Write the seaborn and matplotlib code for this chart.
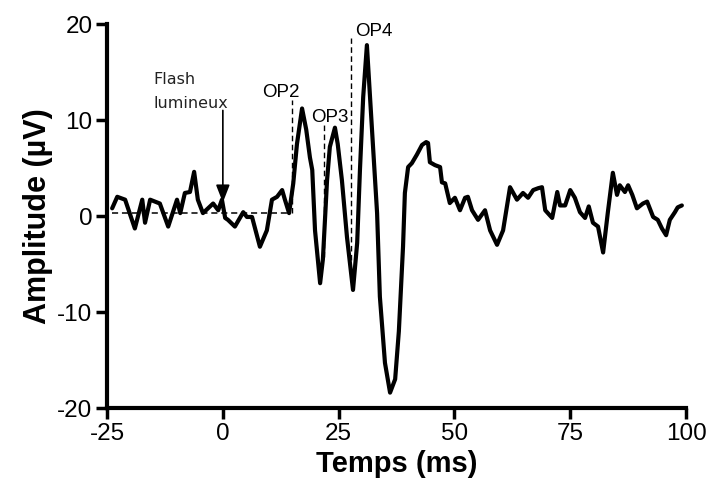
import matplotlib
matplotlib.use("Agg")
import matplotlib.pyplot as plt
import seaborn as sns
import pandas as pd

# ---- data ----
time_ms = [-23.9, -22.8, -21.1, -19.0, -17.4, -16.8, -15.7, -13.6, -11.8, -9.9,
           -9.2, -8.2, -7.1, -6.2, -5.4, -4.3, -3.2, -2.1, -1.0, -0.2,
           0.5, 1.1, 2.6, 4.4, 5.2, 6.3, 8.0, 9.5, 10.6, 11.7,
           12.8, 13.4, 14.3, 15.2, 16.0, 17.1, 18.0, 18.8, 19.3, 19.9,
           21.0, 21.6, 22.5, 23.1, 24.2, 24.8, 25.7, 26.8, 28.1, 29.0,
           29.6, 30.3, 31.1, 32.2, 33.3, 33.9, 35.0, 36.1, 37.2, 38.0,
           38.9, 39.3, 40.0, 40.8, 41.9, 43.0, 43.9, 44.3, 44.7, 45.8,
           46.9, 47.3, 48.0, 49.0, 50.1, 51.2, 52.3, 52.9, 53.8, 55.1,
           56.6, 57.7, 59.2, 60.5, 62.0, 63.5, 64.8, 65.9, 67.0, 68.1,
           68.9, 69.6, 71.1, 72.2, 72.8, 73.9, 75.0, 76.0, 77.1, 78.2,
           79.0, 79.9, 81.0, 82.1, 83.1, 84.2, 85.1, 85.7, 86.8, 87.5,
           88.4, 89.4, 90.7, 91.6, 92.9, 93.9, 94.8, 95.7, 96.5, 97.6,
           98.2, 99.1]
amplitude_uv = [0.8, 2.0, 1.7, -1.3, 1.7, -0.7, 1.7, 1.3, -1.1, 1.7,
                0.3, 2.4, 2.5, 4.6, 1.7, 0.3, 0.8, 1.3, 0.6, 1.7,
                -0.2, -0.4, -1.1, 0.4, -0.1, -0.1, -3.2, -1.5, 1.7, 2.0,
                2.7, 1.7, 0.3, 3.4, 7.5, 11.2, 9.0, 6.1, 4.8, -1.5,
                -7.0, -4.5, 3.75, 7.2, 9.2, 7.5, 3.75, -2.2, -7.7, -2.8,
                4.8, 12.4, 17.8, 9.0, 0.3, -8.4, -15.3, -18.4, -17.0, -12.0,
                -3.2, 2.4, 5.1, 5.5, 6.4, 7.4, 7.7, 7.6, 5.6, 5.3,
                5.1, 3.5, 3.4, 1.35, 1.9, 0.6, 1.9, 2.0, 0.6, -0.4,
                0.6, -1.5, -3.0, -1.5, 3.0, 1.7, 2.4, 1.9, 2.7, 2.9,
                3.0, 0.6, -0.2, 2.5, 1.1, 1.1, 2.7, 1.9, 0.4, -0.2,
                1.0, -0.7, -1.1, -3.8, 0.3, 4.5, 2.2, 3.2, 2.5, 3.2,
                2.2, 0.8, 1.3, 1.5, -0.1, -0.4, -1.3, -2.0, -0.4, 0.4,
                0.9, 1.1]

x_ticks = [-25, 0, 25, 50, 75, 100]
y_ticks = [-20, -10, 0, 10, 20]

baseline_t = [-24.0, 14.3]
baseline_v = 0.3

op_labels = ["OP2", "OP3", "OP4"]
op_line_t = [14.95, 21.85, 27.7]
op_line_top = [12.1, 9.5, 18.5]
op_line_bottom = [0.3, -4.3, -4.6]
op_text_t = [12.6, 23.1, 32.5]
op_text_v = [12.9, 10.3, 19.2]

flash_t = 0.0
flash_top = 11.0
flash_tip = 1.4

# ---- style ----
sns.set_theme(style="ticks")
plt.rcParams["font.family"] = ["Liberation Sans", "DejaVu Sans"]
plt.rcParams["text.color"] = "black"
plt.rcParams["axes.labelcolor"] = "black"

fig = plt.figure(figsize=(7.09, 4.96), dpi=100)
ax = fig.add_axes([0.151, 0.1774, 0.9676 - 0.151, 0.9516 - 0.1774])

df = pd.DataFrame({"t": time_ms, "v": amplitude_uv})
sns.lineplot(data=df, x="t", y="v", sort=False, color="black", linewidth=3.0,
             solid_joinstyle="round", solid_capstyle="round", ax=ax)

# baseline
ax.plot(baseline_t, [baseline_v, baseline_v], color="black", lw=1.1,
        ls=(0, (4, 2.5)), zorder=1)
# OP dashed lines and labels
for lab, lt, top, bot, tt, tv in zip(op_labels, op_line_t, op_line_top,
                                     op_line_bottom, op_text_t, op_text_v):
    ax.plot([lt, lt], [bot, top], color="black", lw=1.0, ls=(0, (4, 2.5)), zorder=1)
    ax.text(tt, tv, lab, ha="center", va="center", fontsize=13.5, color="black")

# flash arrow
ax.annotate("", xy=(flash_t, flash_tip), xytext=(flash_t, flash_top),
            arrowprops=dict(arrowstyle="-|>,head_width=0.35,head_length=0.9",
                            color="black", lw=1.2, shrinkA=0, shrinkB=0))
ax.text(-15.0, 13.8, "Flash", ha="left", va="baseline", fontsize=11.5,
        family="DejaVu Sans", color="#222222")
ax.text(-15.0, 11.3, "lumineux", ha="left", va="baseline", fontsize=11.5,
        family="DejaVu Sans", color="#222222")

ax.set_xlim(-25, 100)
ax.set_ylim(-20, 20)
ax.set_xticks(x_ticks)
ax.set_yticks(y_ticks)
ax.set_xticklabels([str(v) for v in x_ticks])
ax.set_yticklabels([str(v) for v in y_ticks])

for side in ["top", "right"]:
    ax.spines[side].set_visible(False)
for side in ["left", "bottom"]:
    ax.spines[side].set_linewidth(3.0)
    ax.spines[side].set_color("black")
ax.tick_params(axis="both", direction="out", length=8, width=2.5, colors="black",
               labelsize=17.5, pad=2.5)

ax.set_xlabel("Temps (ms)", fontsize=21, fontweight="bold", labelpad=4, color="black")
ax.set_ylabel("Amplitude (µV)", fontsize=22, fontweight="bold", labelpad=3, color="black")

fig.savefig("out.png", dpi=100)
